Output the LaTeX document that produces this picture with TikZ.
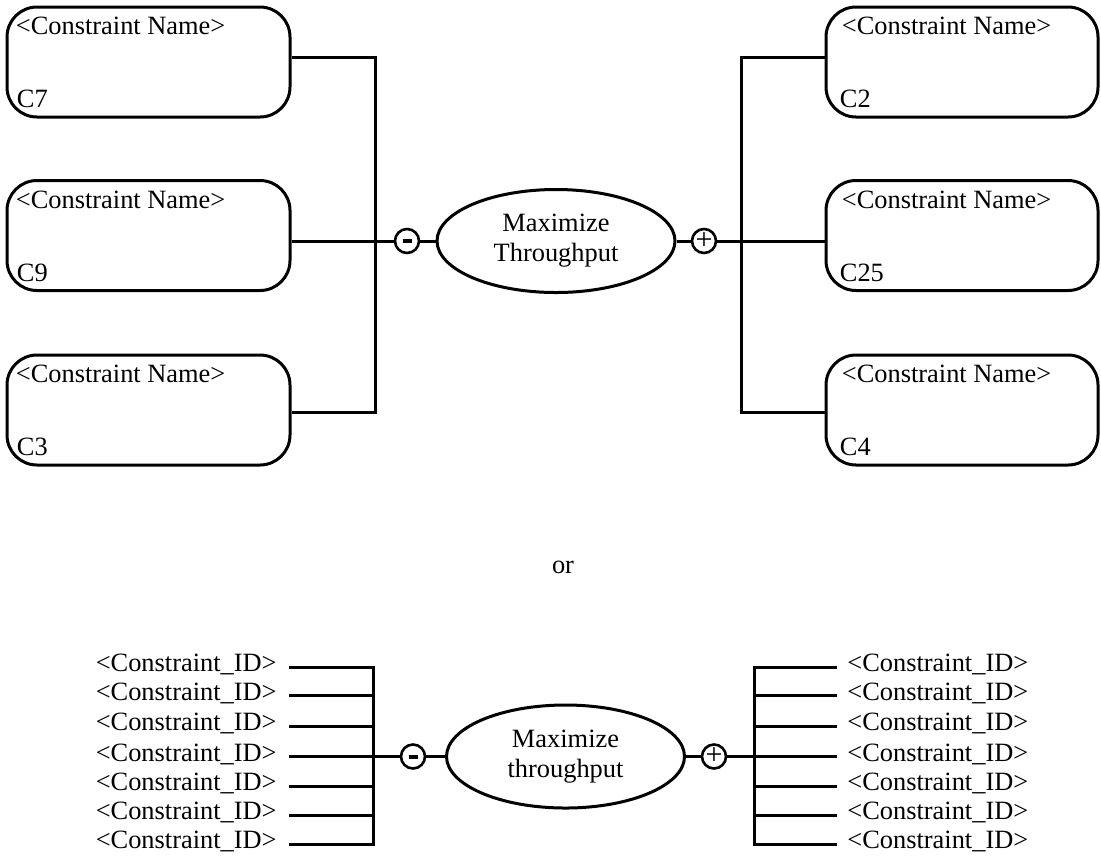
\documentclass[tikz,border=0pt]{standalone}
\usepackage{fontspec}
\setmainfont{Liberation Serif}
\usepackage{tikz}
\usetikzlibrary{shapes.geometric, arrows, positioning, calc}
\tikzstyle{line} = [line width=1.5pt]
\tikzstyle{namebox} = [rectangle, rounded corners=15pt, draw=black, line width=1.5pt, minimum height=55pt, inner sep=0pt]
\tikzstyle{leftbox} = [namebox, minimum width=141.5pt]
\tikzstyle{rightbox} = [namebox, minimum width=136pt]
\tikzstyle{goal} = [ellipse, draw=black, line width=1.5pt, minimum width=119pt, minimum height=51.5pt, inner sep=0pt, align=center]
\tikzstyle{sign} = [circle, draw=black, line width=1.3pt, minimum size=12pt, inner sep=0pt, font=\fontsize{15}{15}\selectfont]
\tikzstyle{txt} = [inner sep=0pt, anchor=base west]

\begin{document}
\begin{tikzpicture}[x=0.5pt, y=-0.5pt, font=\fontsize{13.2}{15}\selectfont]
\useasboundingbox (0,0) rectangle (1101,858);

\node (c7) [leftbox] at (148.5,62) {};
\node (c9) [leftbox] at (148.5,235.5) {};
\node (c3) [leftbox] at (148.5,410) {};
\node (c2) [rightbox] at (962,62) {};
\node (c25) [rightbox] at (962,235.5) {};
\node (c4) [rightbox] at (962,410) {};

\node (c7name) [txt, xshift=5pt, yshift=-14.5pt] at(c7.north west) {<Constraint Name>};
\node (c7id) [txt, xshift=5.5pt, yshift=5.5pt] at(c7.south west) {C7};
\node (c9name) [txt, xshift=5pt, yshift=-14.5pt] at(c9.north west) {<Constraint Name>};
\node (c9id) [txt, xshift=5.5pt, yshift=5.5pt] at(c9.south west) {C9};
\node (c3name) [txt, xshift=5pt, yshift=-14.5pt] at(c3.north west) {<Constraint Name>};
\node (c3id) [txt, xshift=5.5pt, yshift=5.5pt] at(c3.south west) {C3};
\node (c2name) [txt, xshift=8.5pt, yshift=-14.5pt] at(c2.north west) {<Constraint Name>};
\node (c2id) [txt, xshift=7.5pt, yshift=5.5pt] at(c2.south west) {C2};
\node (c25name) [txt, xshift=8.5pt, yshift=-14.5pt] at(c25.north west) {<Constraint Name>};
\node (c25id) [txt, xshift=7.5pt, yshift=5.5pt] at(c25.south west) {C25};
\node (c4name) [txt, xshift=8.5pt, yshift=-14.5pt] at(c4.north west) {<Constraint Name>};
\node (c4id) [txt, xshift=7.5pt, yshift=5.5pt] at(c4.south west) {C4};

\node (goalA) [goal] at (556,241) {Maximize\\Throughput};
\node (minusA) [sign] at (407,241) {\rule[-1pt]{4.5pt}{2pt}};
\node (plusA) [sign] at (704,241) {+};

\coordinate (lbusT) at (375,57);
\coordinate (lbusB) at (375,412);
\coordinate (rbusT) at (741,57);
\coordinate (rbusB) at (741,412);
\draw [line] (c7.east |- lbusT) -- (lbusT) -- (lbusB) -- (lbusB -| c3.east);
\draw [line] (c9.east |- minusA) -- (minusA.west);
\draw [line] (minusA.east) -- (goalA.west);
\draw [line] (goalA.east) -- (plusA.west);
\draw [line] (plusA.east) -- (c25.west |- plusA);
\draw [line] (c2.west |- rbusT) -- (rbusT) -- (rbusB) -- (rbusB -| c4.west);

\node (or) [anchor=base] at (563,573) {or};

\node (goalB) [goal] at (565.5,756.5) {Maximize\\throughput};
\node (minusB) [sign] at (413,756.5) {\rule[-1pt]{4.5pt}{2pt}};
\node (plusB) [sign] at (714,756.5) {+};

\node (idL1) [inner sep=0pt, anchor=mid east] at (277,667) {<Constraint\_ID>};
\node (idL2) [inner sep=0pt, anchor=mid east] at (277,695.5) {<Constraint\_ID>};
\node (idL3) [inner sep=0pt, anchor=mid east] at (277,726) {<Constraint\_ID>};
\node (idL4) [inner sep=0pt, anchor=mid east] at (277,756.5) {<Constraint\_ID>};
\node (idL5) [inner sep=0pt, anchor=mid east] at (277,786) {<Constraint\_ID>};
\node (idL6) [inner sep=0pt, anchor=mid east] at (277,815) {<Constraint\_ID>};
\node (idL7) [inner sep=0pt, anchor=mid east] at (277,844) {<Constraint\_ID>};
\node (idR1) [inner sep=0pt, anchor=mid west] at (847,667) {<Constraint\_ID>};
\node (idR2) [inner sep=0pt, anchor=mid west] at (847,695.5) {<Constraint\_ID>};
\node (idR3) [inner sep=0pt, anchor=mid west] at (847,726) {<Constraint\_ID>};
\node (idR4) [inner sep=0pt, anchor=mid west] at (847,756.5) {<Constraint\_ID>};
\node (idR5) [inner sep=0pt, anchor=mid west] at (847,786) {<Constraint\_ID>};
\node (idR6) [inner sep=0pt, anchor=mid west] at (847,815) {<Constraint\_ID>};
\node (idR7) [inner sep=0pt, anchor=mid west] at (847,844) {<Constraint\_ID>};

\coordinate (lbus2T) at (373,667);
\coordinate (lbus2B) at (373,844);
\coordinate (rbus2T) at (754,667);
\coordinate (rbus2B) at (754,844);
\draw [line] ([xshift=6pt]idL1.mid east) -- (lbus2T) -- (lbus2B) -- ([xshift=6pt]idL7.mid east);
\draw [line] ([xshift=6pt]idL2.mid east) -- (idL2.mid east -| lbus2T);
\draw [line] ([xshift=6pt]idL3.mid east) -- (idL3.mid east -| lbus2T);
\draw [line] ([xshift=6pt]idL4.mid east) -- (minusB.west);
\draw [line] ([xshift=6pt]idL5.mid east) -- (idL5.mid east -| lbus2T);
\draw [line] ([xshift=6pt]idL6.mid east) -- (idL6.mid east -| lbus2T);
\draw [line] (minusB.east) -- (goalB.west);
\draw [line] (goalB.east) -- (plusB.west);
\draw [line] ([xshift=-5pt]idR1.mid west) -- (rbus2T) -- (rbus2B) -- ([xshift=-5pt]idR7.mid west);
\draw [line] ([xshift=-5pt]idR2.mid west) -- (idR2.mid west -| rbus2T);
\draw [line] ([xshift=-5pt]idR3.mid west) -- (idR3.mid west -| rbus2T);
\draw [line] (plusB.east) -- ([xshift=-5pt]idR4.mid west);
\draw [line] ([xshift=-5pt]idR5.mid west) -- (idR5.mid west -| rbus2T);
\draw [line] ([xshift=-5pt]idR6.mid west) -- (idR6.mid west -| rbus2T);

\end{tikzpicture}
\end{document}
